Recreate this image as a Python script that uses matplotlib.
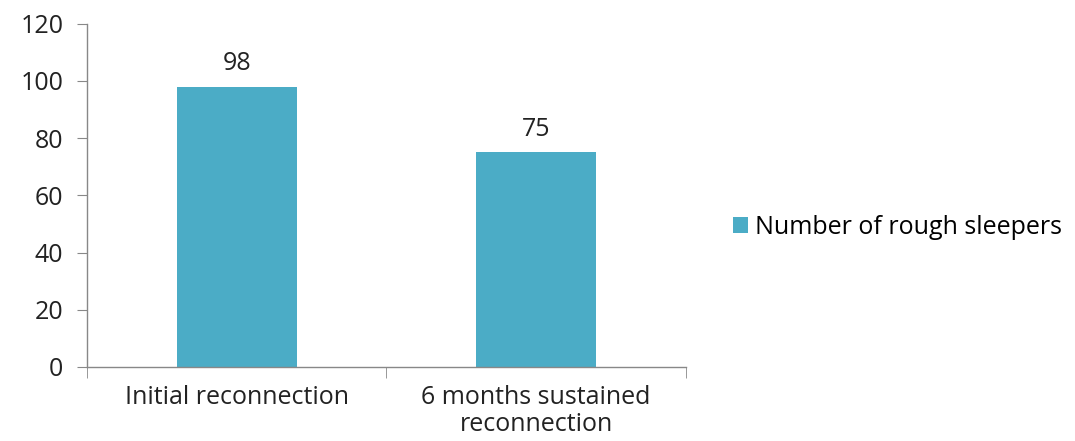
import matplotlib.pyplot as plt
import numpy as np

categories = ['Initial reconnection', '6 months sustained\nreconnection']
values = [98, 75]
series_name = 'Number of rough sleepers'
yticks = [0, 20, 40, 60, 80, 100, 120]

plt.rcParams['font.family'] = ['Open Sans', 'DejaVu Sans']

fig = plt.figure(figsize=(10.75, 4.41), dpi=100)
ax = fig.add_axes([0.081, 0.168, 0.557, 0.778])

x = np.arange(len(categories))
bars = ax.bar(x, values, width=0.4, color='#4BACC6', label=series_name, zorder=2)
for b, v in zip(bars, values):
    ax.text(b.get_x() + b.get_width() / 2, v + 3.8, str(v), ha='center', va='bottom',
            fontsize=18, color='#222222')

ax.set_xlim(-0.5, len(categories) - 0.5)
ax.set_ylim(0, 120)
ax.set_yticks(yticks)
ax.set_xticks(x)
ax.set_xticklabels(categories, fontsize=18, color='#222222', linespacing=1.12)
ax.set_xticks(np.arange(-0.5, len(categories)), minor=True)
ax.tick_params(axis='x', which='major', length=0, pad=13)
ax.tick_params(axis='x', which='minor', length=8, color='#888888', direction='out')
ax.tick_params(axis='y', length=7, color='#888888', labelsize=18, labelcolor='#222222', pad=10)

for s in ['top', 'right']:
    ax.spines[s].set_visible(False)
for s in ['left', 'bottom']:
    ax.spines[s].set_color('#888888')
    ax.spines[s].set_linewidth(1.0)

fig.legend(handles=[bars], labels=[series_name], loc='center left',
           bbox_to_anchor=(0.67, 0.485), frameon=False, fontsize=18,
           handlelength=0.6, handleheight=0.6, handletextpad=0.3, borderpad=0)

fig.savefig('out.png', dpi=100)
